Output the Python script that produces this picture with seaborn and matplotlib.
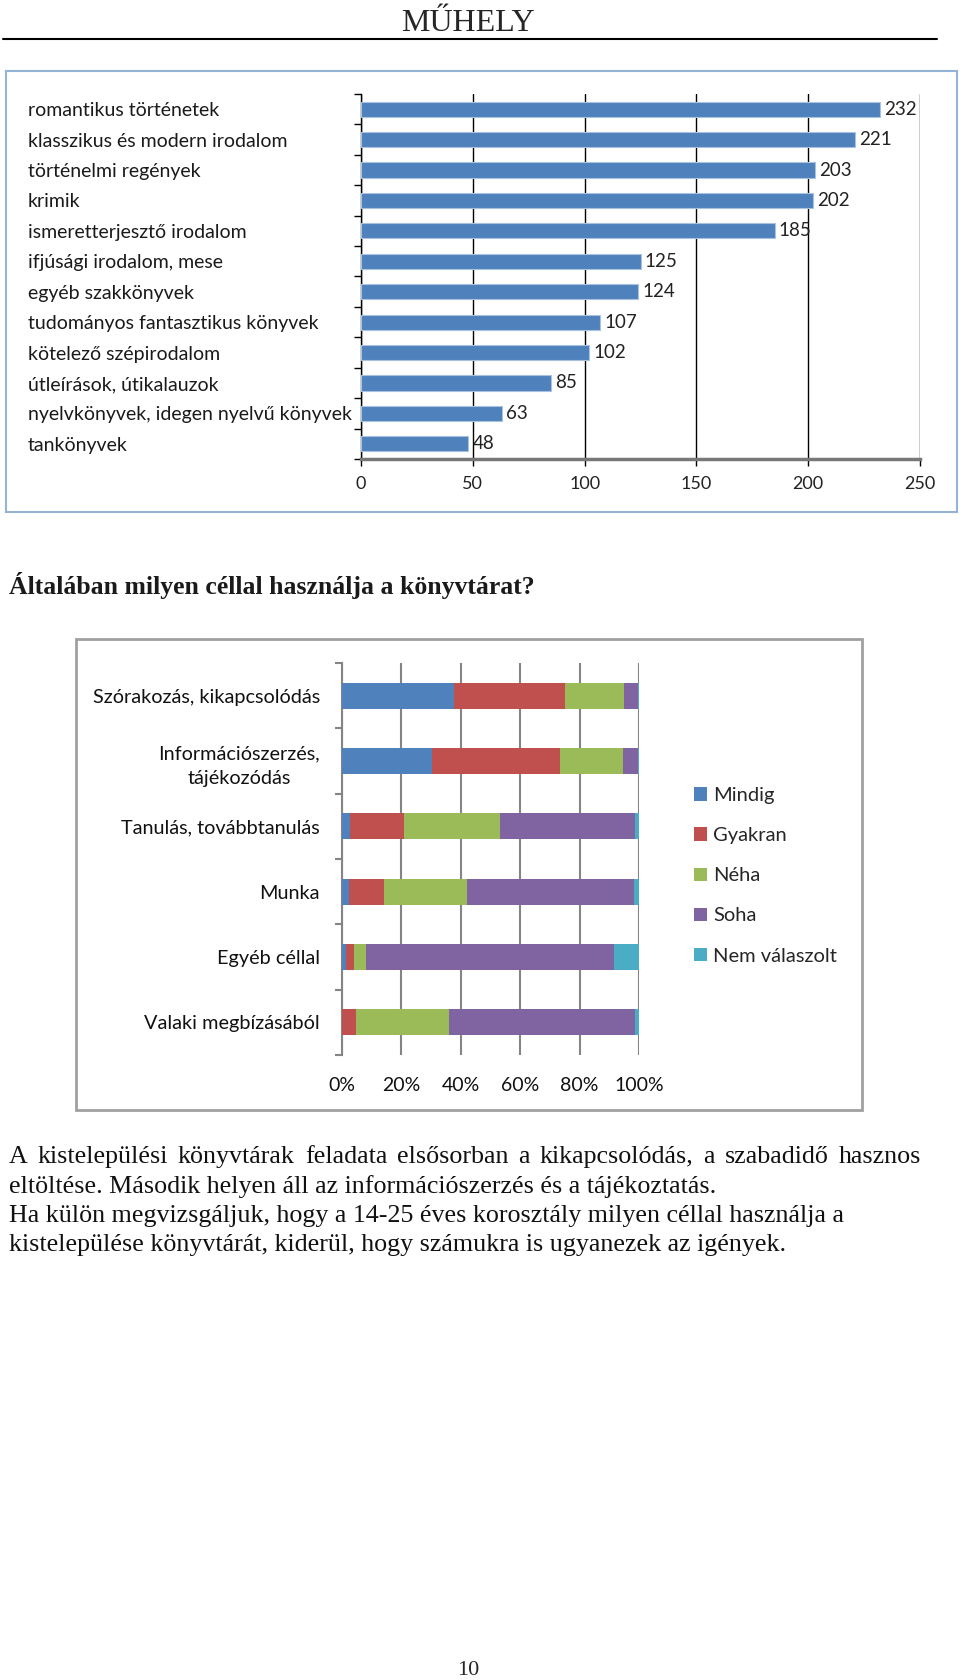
import matplotlib
matplotlib.use("Agg")
import matplotlib.pyplot as plt
import numpy as np
import pandas as pd
import seaborn as sns
from matplotlib.patches import Patch, Rectangle
from matplotlib.lines import Line2D

# --- data -----------------------------------------------------------------
genres = [
    "romantikus történetek",
    "klasszikus és modern irodalom",
    "történelmi regények",
    "krimik",
    "ismeretterjesztő irodalom",
    "ifjúsági irodalom, mese",
    "egyéb szakkönyvek",
    "tudományos fantasztikus könyvek",
    "kötelező szépirodalom",
    "útleírások, útikalauzok",
    "nyelvkönyvek, idegen nyelvű könyvek",
    "tankönyvek",
]
genre_counts = [232, 221, 203, 202, 185, 125, 124, 107, 102, 85, 63, 48]

purposes = [
    "Szórakozás, kikapcsolódás",
    "Információszerzés,\ntájékozódás",
    "Tanulás, továbbtanulás",
    "Munka",
    "Egyéb céllal",
    "Valaki megbízásából",
]
answers = ["Mindig", "Gyakran", "Néha", "Soha", "Nem válaszolt"]
mindig = [37.7, 30.2, 2.8, 2.4, 1.5, 0.0]
gyakran = [37.3, 43.2, 18.2, 11.9, 2.4, 4.8]
neha = [19.8, 21.3, 32.2, 27.8, 4.1, 31.2]
soha = [4.8, 5.0, 45.6, 56.1, 83.5, 62.6]
nem_valaszolt = [0.4, 0.3, 1.2, 1.8, 8.5, 1.4]

answer_colors = ["#4f81bd", "#c0504d", "#9bbb59", "#8064a2", "#4bacc6"]

heading = "Általában milyen céllal használja a könyvtárat?"
body_lines = [
    "A kistelepülési könyvtárak feladata elsősorban a kikapcsolódás, a szabadidő hasznos",
    "eltöltése. Második helyen áll az információszerzés és a tájékoztatás.",
    "Ha külön megvizsgáljuk, hogy a 14-25 éves korosztály milyen céllal használja a",
    "kistelepülése könyvtárát, kiderül, hogy számukra is ugyanezek az igények.",
]
justified = [True, False, False, False]

# --- setup ----------------------------------------------------------------
W, H = 960, 1680
sns.set_theme(style="white")
plt.rcParams["font.family"] = ["Lato", "DejaVu Sans"]
SERIF = ["Liberation Serif", "DejaVu Serif"]

fig = plt.figure(figsize=(W / 100, H / 100), dpi=100)
fig.patch.set_facecolor("white")


def axes_px(left, top, right, bottom):
    return fig.add_axes([left / W, 1 - bottom / H, (right - left) / W, (bottom - top) / H])


def fx(x):
    return x / W


def fy(y):
    return 1 - y / H


# page header
fig.text(fx(468), fy(31), "MŰHELY", family=SERIF, fontsize=23, ha="center", va="baseline")
fig.add_artist(Line2D([fx(3), fx(937)], [fy(38.5), fy(38.5)], color="black", lw=1.5))

# --- chart 1: genres ------------------------------------------------------
fig.add_artist(Rectangle((fx(6), fy(512)), fx(951), (512 - 71) / H,
                         fill=False, edgecolor="#95b3d7", lw=1.5))
ax1 = axes_px(361, 94, 920, 459)
genre_df = pd.DataFrame({"genre": genres, "count": genre_counts})
sns.barplot(data=genre_df, x="count", y="genre", color="#4f81bd", saturation=1,
            width=0.5, edgecolor="#a9c2e0", linewidth=0.8, ax=ax1, zorder=3)
ax1.bar_label(ax1.containers[0], padding=3, fontsize=13.5, color="#222222")
ax1.set_xlim(0, 250)
ax1.set_xticks(np.arange(0, 251, 50))
ax1.set_xlabel("")
ax1.set_ylabel("")
ax1.grid(axis="x", color="black", lw=1)
ax1.set_axisbelow(True)
for side in ["top", "right"]:
    ax1.spines[side].set_visible(False)
ax1.spines["left"].set_color("black")
ax1.spines["left"].set_linewidth(1)
ax1.spines["bottom"].set_color("#777777")
ax1.spines["bottom"].set_linewidth(2.5)
ax1.tick_params(axis="x", bottom=True, length=5, width=1, color="black",
                labelsize=13, pad=7, labelcolor="#222222")
ax1.tick_params(axis="y", left=False, labelsize=14, pad=234, labelcolor="#1a1a1a")
for tl in ax1.get_yticklabels():
    tl.set_ha("left")
ax1.set_yticks(np.arange(-0.5, len(genres), 1), minor=True)
ax1.tick_params(axis="y", which="minor", left=True, length=5, width=1, color="black")

# --- heading ------------------------------------------------------------------
fig.text(fx(9), fy(594), heading, family=SERIF, fontsize=18.5, fontweight="bold",
         ha="left", va="baseline", color="#1a1a1a")

# --- chart 2: purposes (100% stacked) -------------------------------------
fig.add_artist(Rectangle((fx(76), fy(1110)), (862 - 76) / W, (1110 - 639) / H,
                         fill=False, edgecolor="#a0a0a0", lw=2))
ax2 = axes_px(342, 663, 639, 1055)
stack = np.array([mindig, gyakran, neha, soha, nem_valaszolt])
cum = np.cumsum(stack, axis=0)
# draw the cumulative layers from the widest to the narrowest
for i in range(len(answers) - 1, -1, -1):
    layer = pd.DataFrame({"purpose": purposes, "value": cum[i]})
    sns.barplot(data=layer, x="value", y="purpose", order=purposes,
                color=answer_colors[i], saturation=1, width=0.4,
                linewidth=0, ax=ax2, zorder=3)
ax2.set_xlim(0, 100)
ax2.set_xticks(np.arange(0, 101, 20))
ax2.set_xticklabels([f"{v}%" for v in range(0, 101, 20)])
ax2.set_xlabel("")
ax2.set_ylabel("")
ax2.grid(axis="x", color="#858585", lw=1.5)
ax2.set_axisbelow(True)
for side in ["top", "right", "bottom"]:
    ax2.spines[side].set_visible(False)
ax2.spines["left"].set_color("#858585")
ax2.spines["left"].set_linewidth(1.5)
ax2.tick_params(axis="x", bottom=False, labelsize=14, pad=9.5, labelcolor="#111111")
ax2.tick_params(axis="y", left=False, labelsize=14.3, pad=10, labelcolor="#111111")
for tl in ax2.get_yticklabels():
    tl.set_multialignment("center")
    tl.set_linespacing(1.55)
ax2.set_yticks(np.arange(-0.5, len(purposes), 1), minor=True)
ax2.tick_params(axis="y", which="minor", left=True, length=5, width=1.5, color="#858585")

handles = [Patch(facecolor=c, edgecolor="none") for c in answer_colors]
ax2.legend(handles, answers, loc="upper left", bbox_to_anchor=(fx(694), fy(787)),
           bbox_transform=fig.transFigure, frameon=False, fontsize=14.5,
           handlelength=0.65, handleheight=0.65, handletextpad=0.3,
           labelspacing=1.15, borderpad=0, borderaxespad=0)

# --- body text ------------------------------------------------------------
renderer = fig.canvas.get_renderer()
text_left, text_right = 9, 921
for i, line in enumerate(body_lines):
    base = fy(1163 + 29.5 * i)
    if not justified[i]:
        fig.text(fx(text_left), base, line, family=SERIF, fontsize=18.7,
                 ha="left", va="baseline", color="#111111")
        continue
    # justified line: spread the words over the full text width
    words = line.split(" ")
    arts = [fig.text(0, base, w, family=SERIF, fontsize=18.7, ha="left",
                     va="baseline", color="#111111") for w in words]
    widths = [a.get_window_extent(renderer).width for a in arts]
    gap = (text_right - text_left - sum(widths)) / (len(words) - 1)
    x = text_left
    for a, w in zip(arts, widths):
        a.set_x(fx(x))
        x += w + gap

fig.text(fx(468), fy(1675), "10", family=SERIF, fontsize=16, ha="center", va="baseline")

fig.savefig("out.png", dpi=100, facecolor="white")
